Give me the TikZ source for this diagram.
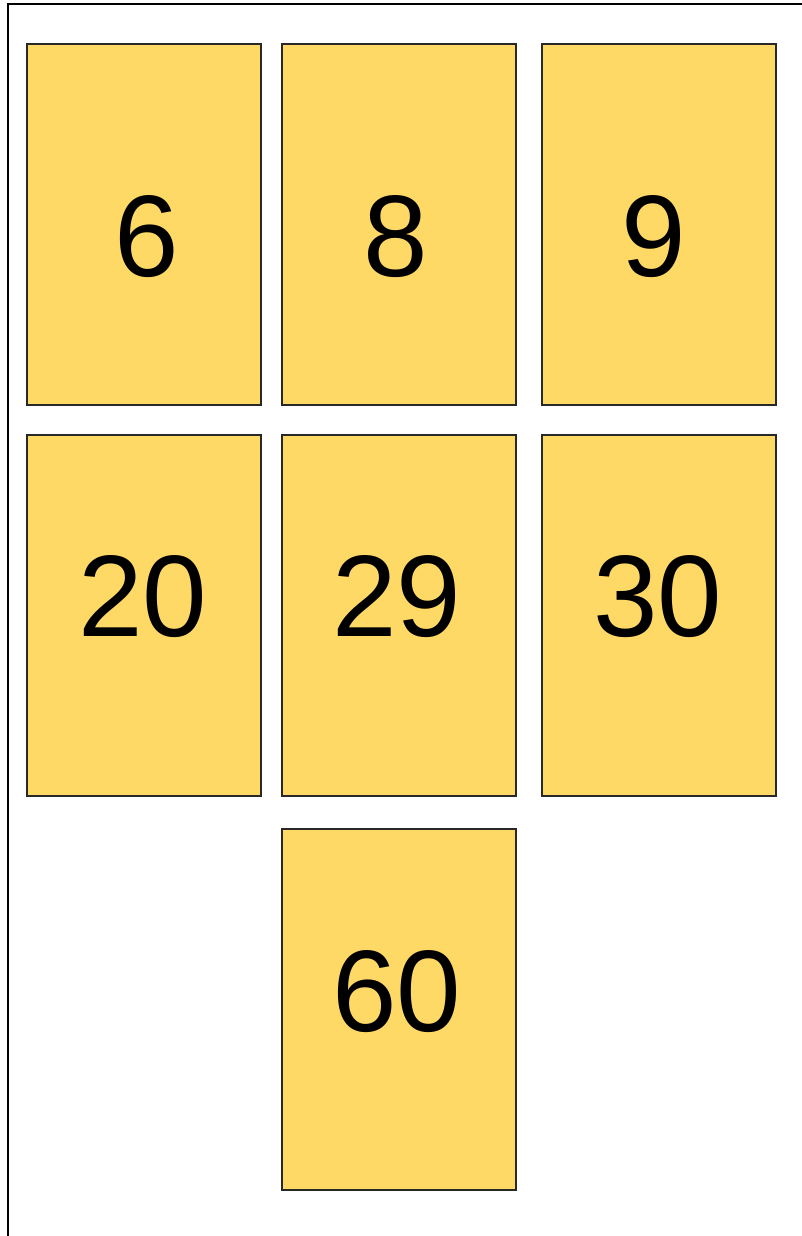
\documentclass[tikz,border=0pt]{standalone}
\usepackage{fontspec}
\setmainfont{Liberation Sans}
\usepackage{xcolor}
\definecolor{cardyellow}{RGB}{255, 217, 102}
\definecolor{cardedge}{RGB}{40, 40, 40}

\begin{document}
\begin{tikzpicture}[
  x = 0.5pt, y = -0.5pt,
  card/.style = {rectangle, draw=cardedge, line width=1pt, fill=cardyellow,
                 minimum width=117pt, minimum height=180.5pt, inner sep=0pt},
  num/.style = {inner sep=0pt, font=\fontsize{58}{60}\selectfont}
]
\useasboundingbox (0,0) rectangle (802,1236);
\coordinate (frametl) at (8,4);
\coordinate (framebl) at (8,1236);
\coordinate (frametr) at (802,4);
\draw[line width=1pt] (framebl) -- (frametl) -- (frametr);
% first row
\node[card] (c6) at (144,224.5) {};
\node[card] (c8) at (398.5,224.5) {};
\node[card] (c9) at (658.5,224.5) {};
% second row
\node[card] (c20) at (144,615.5) {};
\node[card] (c29) at (398.5,615.5) {};
\node[card] (c30) at (658.5,615.5) {};
% third row
\node[card] (c60) at (398.5,1009.5) {};
\node[num] (n6)  at (147,237) {6};
\node[num] (n8)  at (396,237) {8};
\node[num] (n9)  at (654,237) {9};
\node[num] (n20) at (143,597) {20};
\node[num] (n29) at (397,597) {29};
\node[num] (n30) at (658,597) {30};
\node[num] (n60) at (397,992) {60};
\end{tikzpicture}
\end{document}
